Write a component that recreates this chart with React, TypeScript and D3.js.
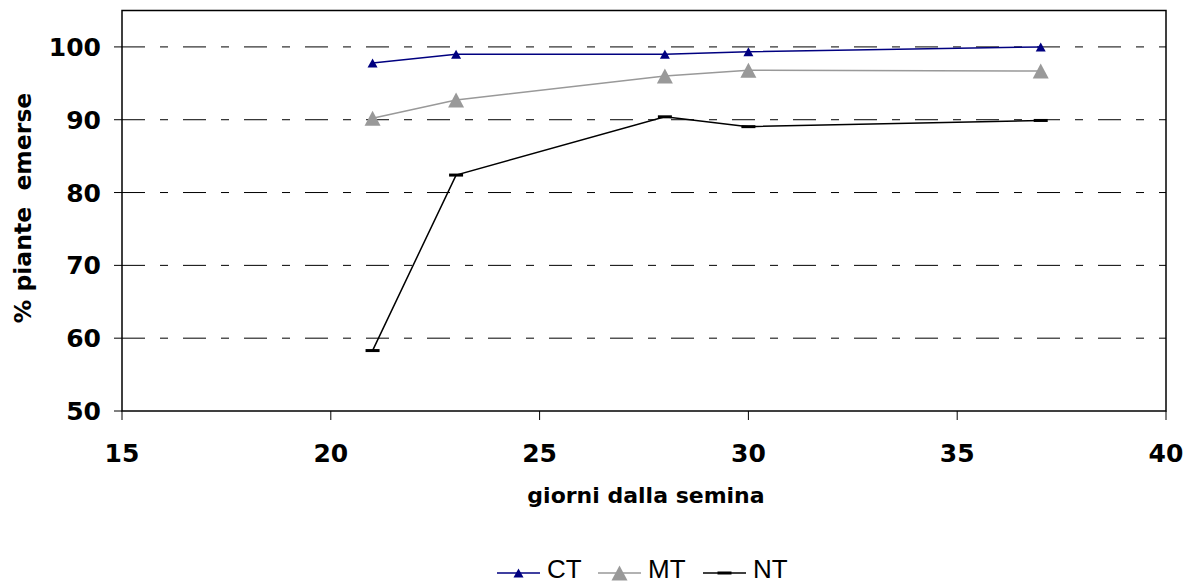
import React from "react";
import * as d3 from "d3";

const days = [21, 23, 28, 30, 37];
const ctValues = [97.8, 99.0, 99.0, 99.35, 100.0];
const mtValues = [90.2, 92.7, 96.0, 96.8, 96.7];
const ntValues = [58.3, 82.4, 90.4, 89.05, 89.9];
const xTicks = [15, 20, 25, 30, 35, 40];
const yTicks = [50, 60, 70, 80, 90, 100];
const seriesNames = ["CT", "MT", "NT"];

const W = 1192, H = 585;
const left = 122, right = 1166, top = 10.5, bottom = 411;

export default function App() {
  const x = d3.scaleLinear().domain([15, 40]).range([left, right]);
  const y = d3.scaleLinear().domain([50, 105]).range([bottom, top]);
  const line = d3.line<[number, number]>().x(d => x(d[0])).y(d => y(d[1]));
  const mk = (vals: number[]) => days.map((d, i) => [d, vals[i]] as [number, number]);
  const series = [
    { name: seriesNames[0], vals: ctValues, color: "#000080", lw: 1.5, marker: "tri-s" },
    { name: seriesNames[1], vals: mtValues, color: "#999999", lw: 1.5, marker: "tri-l" },
    { name: seriesNames[2], vals: ntValues, color: "#000000", lw: 1.5, marker: "dash" },
  ];
  const tri = (cx: number, cy: number, w: number, h: number) =>
    `M${cx - w / 2},${cy + h / 2}L${cx},${cy - h / 2}L${cx + w / 2},${cy + h / 2}Z`;
  const marker = (m: string, cx: number, cy: number, color: string, key: string) => {
    if (m === "tri-s") return <path key={key} d={tri(cx, cy, 10, 9)} fill={color} />;
    if (m === "tri-l") return <path key={key} d={tri(cx, cy, 16, 15)} fill={color} />;
    return <rect key={key} x={cx - 7} y={cy - 1.5} width={14} height={3} fill={color} />;
  };
  const legendItems = [
    { lx: 497, tx: 547 },
    { lx: 598, tx: 648 },
    { lx: 703, tx: 753 },
  ];
  return (
    <svg width={W} height={H} style={{ position: "absolute", left: 0, top: 0, background: "#fff" }}>
      <rect x={0} y={0} width={W} height={H} fill="#fff" />
      {yTicks.filter(t => t > 50).map(t => (
        <line key={"g" + t} x1={left} x2={right} y1={y(t)} y2={y(t)} stroke="#000" strokeWidth={1} strokeDasharray="23 15 8 15" />
      ))}
      <rect x={left} y={top} width={right - left} height={bottom - top} fill="none" stroke="#000" strokeWidth={1.5} />
      {yTicks.map(t => (
        <g key={"y" + t}>
          <line x1={left - 8} x2={left} y1={y(t)} y2={y(t)} stroke="#000" strokeWidth={1} />
          <text x={left - 21} y={y(t)} dy="0.36em" textAnchor="end" fontFamily="DejaVu Sans" fontWeight="bold" fontSize={25}>{t}</text>
        </g>
      ))}
      {xTicks.map(t => (
        <g key={"x" + t}>
          <line x1={x(t)} x2={x(t)} y1={bottom} y2={bottom + 9} stroke="#000" strokeWidth={1} />
          <text x={x(t)} y={462} textAnchor="middle" fontFamily="DejaVu Sans" fontWeight="bold" fontSize={25}>{t}</text>
        </g>
      ))}
      <text x={646} y={503} textAnchor="middle" fontFamily="DejaVu Sans" fontWeight="bold" fontSize={22}>giorni dalla semina</text>
      <text transform={`translate(31,208) rotate(-90)`} textAnchor="middle" fontFamily="DejaVu Sans" fontWeight="bold" fontSize={23.5} xmlSpace="preserve">% piante  emerse</text>
      {series.map(s => (
        <g key={s.name}>
          <path d={line(mk(s.vals)) || ""} fill="none" stroke={s.color} strokeWidth={s.lw} />
          {mk(s.vals).map((p, i) => marker(s.marker, x(p[0]), y(p[1]), s.color, s.name + i))}
        </g>
      ))}
      {series.map((s, i) => (
        <g key={"l" + s.name}>
          <line x1={legendItems[i].lx} x2={legendItems[i].lx + 43} y1={573} y2={573} stroke={s.color} strokeWidth={1.5} />
          {marker(s.marker, legendItems[i].lx + 21.5, 573, s.color, "lm" + i)}
          <text x={legendItems[i].tx} y={578} fontFamily="Liberation Sans" fontSize={26}>{s.name}</text>
        </g>
      ))}
    </svg>
  );
}
